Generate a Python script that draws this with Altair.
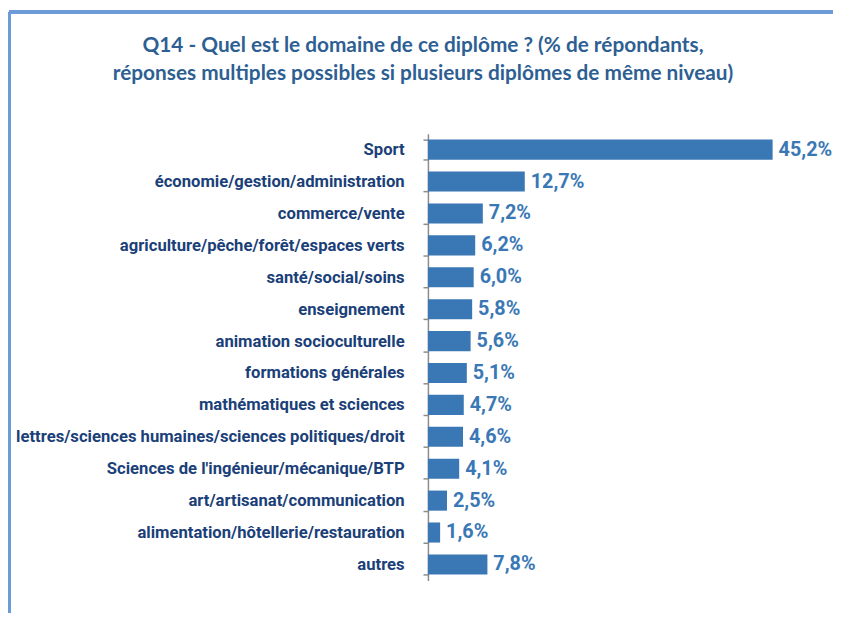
import altair as alt
import pandas as pd

categories = [
    "Sport",
    "économie/gestion/administration",
    "commerce/vente",
    "agriculture/pêche/forêt/espaces  verts",
    "santé/social/soins",
    "enseignement",
    "animation socioculturelle",
    "formations générales",
    "mathématiques et sciences",
    "lettres/sciences humaines/sciences politiques/droit",
    "Sciences de l'ingénieur/mécanique/BTP",
    "art/artisanat/communication",
    "alimentation/hôtellerie/restauration",
    "autres",
]
values = [45.2, 12.7, 7.2, 6.2, 6.0, 5.8, 5.6, 5.1, 4.7, 4.6, 4.1, 2.5, 1.6, 7.8]

df = pd.DataFrame({"cat": categories, "val": values})

title_lines = [
    "Q14 - Quel est le domaine de ce diplôme ? (% de répondants,",
    "réponses multiples possibles si plusieurs diplômes  de même niveau)",
]

W, H = 385, 451
LABEL_FONT = "Roboto"

y_enc = alt.Y(
    "cat:N",
    sort=categories,
    title=None,
    scale=alt.Scale(paddingInner=0.37, paddingOuter=0.185),
    axis=alt.Axis(
        tickBand="extent",
        tickExtra=True,
        tickSize=5,
        tickColor="#8c8c8c",
        domainColor="#8c8c8c",
        domainWidth=1.5,
        tickWidth=1.5,
        labelPadding=19,
        labelFont=LABEL_FONT,
        labelFontWeight="bold",
        labelFontSize=16.8,
        labelColor="#1B3F78",
        labelLimit=500,
    ),
)
x_enc = alt.X("val:Q", scale=alt.Scale(domain=[0, 50]), axis=None)

bars = alt.Chart(df).mark_bar(color="#3A78B5").encode(x=x_enc, y=y_enc)

labels = (
    alt.Chart(df)
    .transform_calculate(lbl="replace(format(datum.val, '.1f'), '.', ',') + '%'")
    .mark_text(
        align="left",
        baseline="middle",
        dx=6,
        font=LABEL_FONT,
        fontWeight="bold",
        fontSize=20,
        color="#3A78B5",
    )
    .encode(x=x_enc, y=alt.Y("cat:N", sort=categories), text="lbl:N")
)

title_df = pd.DataFrame({"t": title_lines})


def title_line(i, ypos):
    return (
        alt.Chart(title_df)
        .transform_filter(f"datum.t == {title_lines[i]!r}")
        .mark_text(
            align="center",
            baseline="middle",
            font="Lato",
            fontWeight="bold",
            fontSize=21,
            color="#2E5F93",
        )
        .encode(text="t:N", x=alt.value(-5), y=alt.value(ypos))
    )


t1 = title_line(0, -89)
t2 = title_line(1, -60)

frame_left = alt.Chart(df).mark_rule(color="#6B9BD8", strokeWidth=2.5).encode(
    x=alt.value(-423), y=alt.value(-123), y2=alt.value(H + 40)
)
frame_top = alt.Chart(df).mark_rule(color="#6B9BD8", strokeWidth=2.5).encode(
    x=alt.value(-423), x2=alt.value(W + 30), y=alt.value(-123)
)

chart = (
    alt.layer(frame_left, frame_top, t1, t2, bars, labels)
    .properties(
        width=W,
        height=H,
        autosize=alt.AutoSizeParams(type="none"),
        padding={"left": 424, "top": 124, "right": 24, "bottom": 30},
    )
    .configure_view(stroke=None)
)

chart.save("out.html", embed_options={"renderer": "svg", "actions": False})
